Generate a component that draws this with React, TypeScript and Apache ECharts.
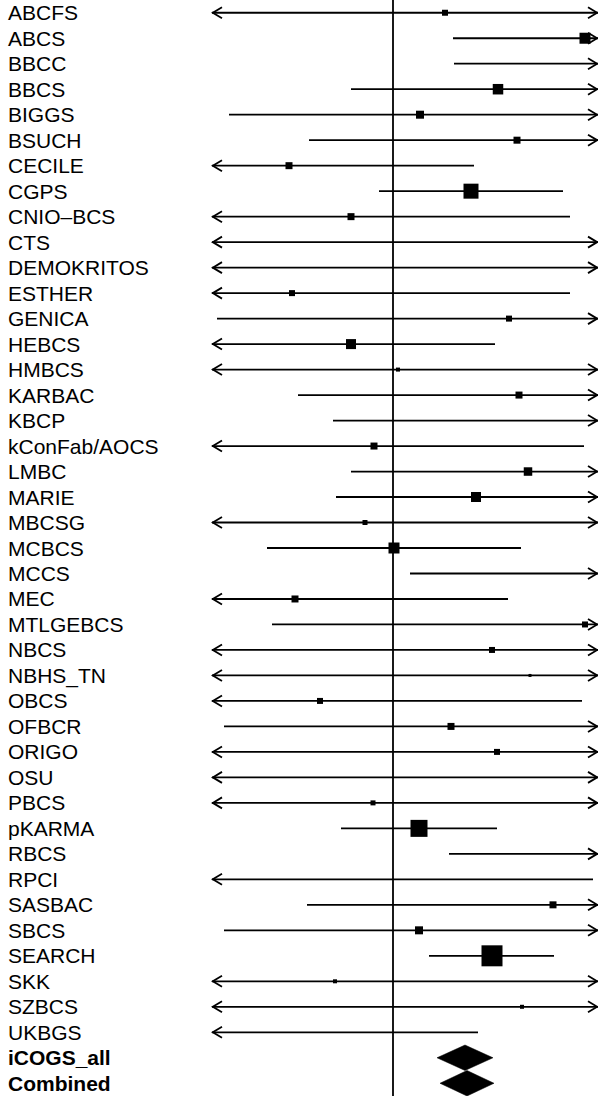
import React, { useEffect, useRef } from "react";
import * as echarts from "echarts";

// Study names (top to bottom)
const studies = [
  "ABCFS", "ABCS", "BBCC", "BBCS", "BIGGS", "BSUCH", "CECILE", "CGPS", "CNIO–BCS", "CTS",
  "DEMOKRITOS", "ESTHER", "GENICA", "HEBCS", "HMBCS", "KARBAC", "KBCP", "kConFab/AOCS", "LMBC", "MARIE",
  "MBCSG", "MCBCS", "MCCS", "MEC", "MTLGEBCS", "NBCS", "NBHS_TN", "OBCS", "OFBCR", "ORIGO",
  "OSU", "PBCS", "pKARMA", "RBCS", "RPCI", "SASBAC", "SBCS", "SEARCH", "SKK", "SZBCS",
  "UKBGS",
];
const summaryNames = ["iCOGS_all", "Combined"];

// log-odds scale estimates (null = estimate not shown)
const lower = [
  -2.5, 0.6, 0.61, -0.42, -1.64, -0.84, -2.6, -0.14, -2.5, -3.0,
  -3.0, -2.7, -1.76, -2.2, -3.0, -0.95, -0.6, -2.4, -0.42, -0.57,
  -2.8, -1.26, 0.17, -2.6, -1.21, -2.5, -3.0, -2.4, -1.69, -2.8,
  -3.0, -2.9, -0.52, 0.56, -3.0, -0.86, -1.69, 0.36, -3.0, -3.0,
  -3.0,
];
const estimate: (number | null)[] = [
  0.52, 1.92, null, 1.05, 0.27, 1.24, -1.04, 0.78, -0.42, null,
  null, -1.01, 1.16, -0.42, 0.05, 1.26, null, -0.19, 1.35, 0.83,
  -0.28, 0.01, null, -0.98, 1.92, 0.99, 1.37, -0.73, 0.58, 1.04,
  null, -0.2, 0.26, null, null, 1.6, 0.26, 0.99, -0.58, 1.29,
  null,
];
const upper = [
  2.5, 2.6, 3.0, 2.5, 2.3, 2.6, 0.81, 1.7, 1.77, 3.0,
  3.0, 1.77, 2.8, 1.02, 3.0, 2.9, 3.2, 1.91, 2.7, 2.3,
  2.6, 1.28, 3.0, 1.15, 3.0, 2.9, 3.0, 1.89, 2.7, 2.9,
  3.0, 2.9, 1.04, 3.0, 2.0, 2.8, 2.5, 1.61, 3.0, 3.0,
  0.85,
];
// relative study weight (drives box size)
const boxWeight = [
  6, 11, 0, 10.5, 8, 7, 7, 15, 7, 0,
  0, 6, 6, 10, 4, 7, 0, 7, 8.5, 10,
  5, 11, 0, 7, 6, 6, 3, 6, 7, 6,
  0, 5, 17, 0, 0, 7, 8, 21, 4, 4,
  0,
];
const summaryLower = [0.44, 0.47];
const summaryEstimate = [0.72, 0.74];
const summaryUpper = [1.0, 1.01];

const X_MIN = -1.81;
const X_MAX = 2.05;

export default function App() {
  const ref = useRef<HTMLDivElement>(null);
  useEffect(() => {
    if (!ref.current) return;
    const chart = echarts.init(ref.current, null, { renderer: "svg" });
    const categories = [...studies, ...summaryNames];
    const nStudy = studies.length;

    const data: any[] = [];
    for (let i = 0; i < nStudy; i++) {
      data.push([i, lower[i], estimate[i] === null ? NaN : estimate[i], upper[i], boxWeight[i], 0]);
    }
    for (let j = 0; j < summaryNames.length; j++) {
      data.push([nStudy + j, summaryLower[j], summaryEstimate[j], summaryUpper[j], 0, 1]);
    }

    const lineW = 1.8;
    const renderItem = (params: any, api: any) => {
      const row = api.value(0);
      const lo = api.value(1);
      const est = api.value(2);
      const hi = api.value(3);
      const w = api.value(4);
      const kind = api.value(5);
      const xLeft = api.coord([X_MIN, row])[0];
      const xRight = api.coord([X_MAX, row])[0];
      const y = api.coord([0, row])[1];
      const band = api.size([0, 1])[1];
      const children: any[] = [];
      if (kind === 1) {
        const pl = api.coord([lo, row])[0];
        const pe = api.coord([est, row])[0];
        const ph = api.coord([hi, row])[0];
        const h = band * 0.5;
        children.push({
          type: "polygon",
          shape: { points: [[pl, y], [pe, y - h], [ph, y], [pe, y + h]] },
          style: { fill: "#000", stroke: "#000", lineWidth: 0.5 },
        });
        return { type: "group", children };
      }
      const loClipped = lo < X_MIN;
      const hiClipped = hi > X_MAX;
      const x1 = loClipped ? xLeft : api.coord([lo, row])[0];
      const x2 = hiClipped ? xRight : api.coord([hi, row])[0];
      children.push({
        type: "line",
        shape: { x1, y1: y, x2, y2: y },
        style: { stroke: "#000", lineWidth: lineW },
      });
      const aL = 10;
      const aH = 5.5;
      if (loClipped) {
        children.push({
          type: "polyline",
          shape: { points: [[x1 + aL, y - aH], [x1 + 0.8, y], [x1 + aL, y + aH]] },
          style: { stroke: "#000", lineWidth: lineW, fill: "none" },
        });
      }
      if (hiClipped) {
        children.push({
          type: "polyline",
          shape: { points: [[x2 - aL, y - aH], [x2 - 0.8, y], [x2 - aL, y + aH]] },
          style: { stroke: "#000", lineWidth: lineW, fill: "none" },
        });
      }
      if (!isNaN(est) && est >= X_MIN && est <= X_MAX && w > 0) {
        const pe = api.coord([est, row])[0];
        const s = w;
        children.push({
          type: "rect",
          shape: { x: pe - s / 2, y: y - s / 2, width: s, height: s },
          style: { fill: "#000" },
        });
      }
      return { type: "group", children };
    };

    chart.setOption({
      animation: false,
      backgroundColor: "#fff",
      grid: { left: 212, right: 0, top: -1, bottom: 0, containLabel: false },
      xAxis: {
        type: "value",
        min: X_MIN,
        max: X_MAX,
        axisLine: { show: false },
        axisTick: { show: false },
        axisLabel: { show: false },
        splitLine: { show: false },
      },
      yAxis: {
        type: "category",
        data: categories,
        inverse: true,
        axisLine: { show: false },
        axisTick: { show: false },
        splitLine: { show: false },
        axisLabel: {
          interval: 0,
          hideOverlap: false,
          align: "left",
          margin: 204,
          color: "#000",
          fontSize: 21,
          fontFamily: "'Liberation Sans', Arial, Helvetica, sans-serif",
          formatter: (v: string, i: number) => (i >= nStudy ? `{b|${v}}` : v),
          rich: {
            b: {
              fontWeight: "bold",
              fontSize: 21,
              color: "#000",
              fontFamily: "'Liberation Sans', Arial, Helvetica, sans-serif",
            },
          },
        },
      },
      series: [
        {
          type: "custom",
          renderItem,
          data,
          clip: false,
          encode: { x: [1, 2, 3], y: 0 },
          markLine: {
            silent: true,
            symbol: "none",
            label: { show: false },
            lineStyle: { color: "#000", width: 1.8, type: "solid" },
            data: [{ xAxis: 0 }],
          },
        },
      ],
    });
    return () => chart.dispose();
  }, []);
  return (
    <div
      ref={ref}
      style={{ position: "fixed", left: 0, top: 0, width: 598, height: 1096, background: "#fff" }}
    />
  );
}
